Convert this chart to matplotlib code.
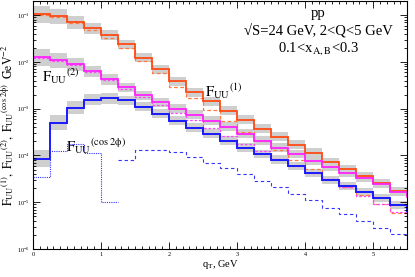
import numpy as np
import matplotlib
matplotlib.use("Agg")
import matplotlib.pyplot as plt
from matplotlib.ticker import LogLocator, MultipleLocator, NullFormatter

plt.rcParams['font.family'] = ['Liberation Serif', 'DejaVu Serif']
plt.rcParams['mathtext.fontset'] = 'stix'

# bin edges in qT (GeV), 0.25 wide; last bin lies just past the axis edge
edges = np.arange(0, 5.76, 0.25)

# F_UU^(1): solid + dashed
f1_solid = [0.105, 0.0953, 0.0708, 0.0526, 0.0372, 0.0239, 0.0123, 6.93e-3, 3.84e-3, 2.23e-3, 1.43e-3,
            9.14e-4, 5.86e-4, 3.76e-4, 2.53e-4, 1.71e-4, 1.15e-4, 7.36e-5, 5.21e-5, 3.69e-5, 2.61e-5,
            1.76e-5, 1.4e-5]
f1_dash = [0.1, 0.0906, 0.0673, 0.0477, 0.0321, 0.0196, 0.0103, 5.69e-3, 2.85e-3, 1.66e-3, 9.62e-4,
           5.58e-4, 3.24e-4, 2.08e-4, 1.33e-4, 8.13e-5, 5.21e-5, 3.18e-5, 2.14e-5, 1.44e-5, 9.25e-6,
           5.93e-6, 4.5e-6]

# F_UU^(2)
f2_solid = [0.01256, 0.01081, 8.87e-3, 6.28e-3, 4.24e-3, 2.85e-3, 1.92e-3, 1.36e-3, 1.01e-3, 7.52e-4,
            5.58e-4, 4.15e-4, 2.94e-4, 2.08e-4, 1.47e-4, 1.09e-4, 7.73e-5, 5.75e-5, 4.28e-5, 3.34e-5,
            2.48e-5, 1.67e-5, 1.3e-5]
f2_dash = [0.0123, 0.0103, 8.45e-3, 5.98e-3, 4.03e-3, 2.58e-3, 1.74e-3, 1.23e-3, 8.28e-4, 5.86e-4,
           3.95e-4, 2.66e-4, 1.79e-4, 1.27e-4, 8.53e-5, 6.04e-5, 4.28e-5, 3.18e-5, 2.14e-5, 1.37e-5,
           9.25e-6, 6.22e-6, 4.5e-6]

# F_UU^(cos 2phi): solid, plus dotted (qT<1.25) and dashed (qT>1.25)
fc_solid = [8.53e-5, 5.06e-4, 1.06e-3, 1.57e-3, 1.66e-3, 1.50e-3, 1.11e-3, 7.89e-4, 5.58e-4, 3.95e-4,
            2.94e-4, 2.08e-4, 1.47e-4, 1.09e-4, 8.13e-5, 6.04e-5, 4.28e-5, 3.03e-5, 2.25e-5, 1.67e-5,
            1.24e-5, 8.79e-6, 6.5e-6]
fc_dot = [3.51e-5, 1.27e-4, 1.79e-4, 1.15e-4, 1.0e-5]
fc_dash = [8.13e-5, 1.33e-4, 1.31e-4, 1.21e-4, 9.42e-5, 7.0e-5, 5.47e-5, 4.06e-5, 2.88e-5, 2.14e-5,
           1.51e-5, 1.13e-5, 7.59e-6, 5.64e-6, 3.99e-6, 2.82e-6, 2.10e-6, 1.5e-6]

# half width of the grey bands, in decades
band_dex = [0.18, 0.16, 0.14, 0.12, 0.11, 0.10, 0.10, 0.10, 0.10, 0.10, 0.10,
            0.10, 0.10, 0.09, 0.09, 0.09, 0.09, 0.09, 0.09, 0.09, 0.09, 0.09, 0.09]

fig = plt.figure(figsize=(4.15, 2.77), dpi=100)
ax = fig.add_axes([0.0795, 0.101, 0.9015, 0.895])

grey = '#cfcfcf'
fac = 10 ** np.array(band_dex)
for s in (f1_solid, f2_solid, fc_solid):
    s = np.array(s)
    ax.stairs(s * fac, edges, baseline=s / fac, fill=True, color=grey, lw=0)

red = '#ff4a14'
mag = '#ff22ff'
blue = '#1a1aff'
ax.stairs(f1_dash, edges, baseline=None, color='#ff7a40', lw=0.9, ls=(0, (3, 2)))
ax.stairs(f2_dash, edges, baseline=None, color='#ff44ff', lw=0.9, ls=(0, (2, 1.5)))
ax.stairs(f1_solid, edges, baseline=None, color=red, lw=1.3)
ax.stairs(f2_solid, edges, baseline=None, color=mag, lw=1.3)
ax.stairs(fc_solid, edges, baseline=None, color=blue, lw=1.4)
ax.stairs(fc_dot, edges[:6], baseline=None, color='#3535ff', lw=0.8, ls=(0, (1, 1)))
ax.stairs(fc_dash, edges[5:], baseline=None, color='#3535ff', lw=0.8, ls=(0, (3, 2.5)))

ax.set_yscale('log')
ax.set_xlim(0, 5.5)
ax.set_ylim(1e-6, 0.2)

ax.xaxis.set_major_locator(MultipleLocator(1))
ax.xaxis.set_minor_locator(MultipleLocator(0.1))
ax.yaxis.set_major_locator(LogLocator(base=10, numticks=10))
ax.yaxis.set_minor_locator(LogLocator(base=10, subs=np.arange(2, 10), numticks=20))
ax.yaxis.set_minor_formatter(NullFormatter())
ax.tick_params(which='both', direction='in', top=True, right=True, labelsize=4.5, width=0.6, pad=2)
ax.tick_params(which='major', length=5)
ax.tick_params(which='minor', length=2.5)
for sp in ax.spines.values():
    sp.set_linewidth(0.8)

ax.set_xlabel(r'q$_{\rm T}$, GeV', fontsize=7.5, labelpad=1)
ax.set_ylabel(r'$\rm F_{UU}{}^{(1)},\ F_{UU}{}^{(2)},\ F_{UU}{}^{(cos\ 2\phi)}\ \ GeV^{-2}$',
              fontsize=8.5, labelpad=1)

ax.text(0.762, 0.952, 'pp', transform=ax.transAxes, ha='center', va='center', fontsize=10.5)
ax.text(0.762, 0.883, '\u221aS=24 GeV, 2<Q<5 GeV', transform=ax.transAxes,
        ha='center', va='center', fontsize=10.5)
ax.text(0.762, 0.808, r'0.1<x$_{\rm A,B}$<0.3', transform=ax.transAxes,
        ha='center', va='center', fontsize=10.5)
ax.text(0.024, 0.695, r'$\rm F_{UU}{}^{(2)}$', transform=ax.transAxes, va='center', fontsize=10.5)
ax.text(0.46, 0.635, r'$\rm F_{UU}{}^{(1)}$', transform=ax.transAxes, va='center', fontsize=10.5)
ax.text(0.088, 0.415, r'$\rm F_{UU}{}^{(cos\ 2\phi)}$', transform=ax.transAxes, va='center', fontsize=10.5)

fig.savefig('out.png', dpi=100)
